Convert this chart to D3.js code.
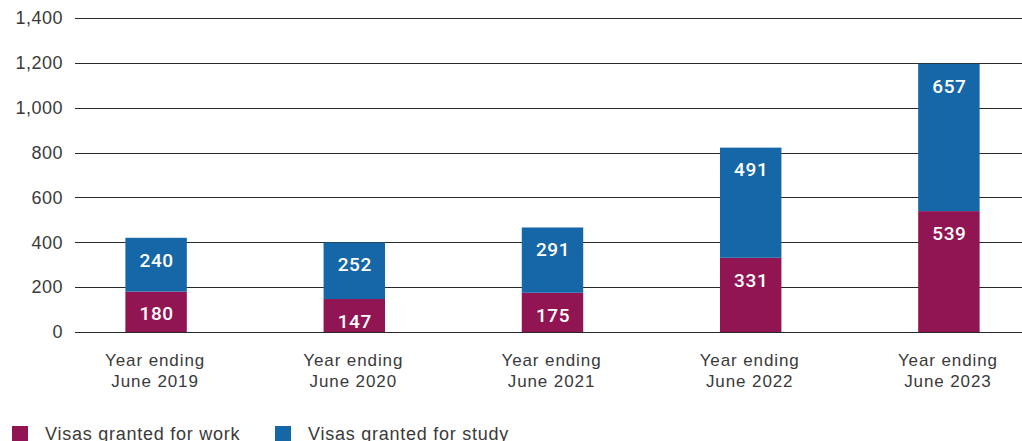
<!DOCTYPE html>
<html>
<head>
<meta charset="utf-8">
<script src="https://cdn.jsdelivr.net/npm/d3@7"></script>
<style>
  html, body { margin: 0; padding: 0; background: #fff; }
  svg { display: block; font-family: "Liberation Sans", Arial, sans-serif; }
</style>
</head>
<body>
<svg id="chart" width="1022" height="441"></svg>
<script>
const categories = ["Year ending|June 2019", "Year ending|June 2020", "Year ending|June 2021", "Year ending|June 2022", "Year ending|June 2023"];
const work = [180, 147, 175, 331, 539];
const study = [240, 252, 291, 491, 657];
const yTicks = [0, 200, 400, 600, 800, 1000, 1200, 1400];
const seriesNames = ["Visas granted for work", "Visas granted for study"];
const colors = ["#921553", "#1567a7"];

const svg = d3.select("#chart");
const y = d3.scaleLinear().domain([0, 1400]).range([332, 18]);
const x = d3.scaleBand().domain(categories).range([57, 1048]).paddingInner(0.69).paddingOuter(0.345);

// gridlines
svg.append("g").selectAll("line").data(yTicks).join("line")
  .attr("x1", 75).attr("x2", 1022)
  .attr("y1", d => Math.round(y(d)) + 0.5).attr("y2", d => Math.round(y(d)) + 0.5)
  .attr("stroke", "#2a2a2a").attr("stroke-width", 1);

// y axis labels
svg.append("g").selectAll("text").data(yTicks).join("text")
  .attr("x", 63).attr("y", d => y(d)).attr("dy", "0.35em")
  .attr("text-anchor", "end").attr("font-size", 18).attr("letter-spacing", 0.5).attr("fill", "#3a3a3a")
  .text(d => d3.format(",")(d));

const stacked = categories.map((c, i) => ({c, w: work[i], s: study[i]}));

const g = svg.append("g");
g.selectAll("rect.work").data(stacked).join("rect").attr("class", "work")
  .attr("x", d => x(d.c)).attr("width", x.bandwidth())
  .attr("y", d => y(d.w)).attr("height", d => y(0) - y(d.w))
  .attr("fill", colors[0]);
g.selectAll("rect.study").data(stacked).join("rect").attr("class", "study")
  .attr("x", d => x(d.c)).attr("width", x.bandwidth())
  .attr("y", d => y(d.w + d.s)).attr("height", d => y(d.w) - y(d.w + d.s))
  .attr("fill", colors[1]);

const valFont = "Roboto, 'Liberation Sans', Arial, sans-serif";
g.selectAll("text.wl").data(stacked).join("text").attr("class", "wl")
  .attr("x", d => x(d.c) + x.bandwidth() / 2 + 0.5).attr("y", d => y(d.w) + 22).attr("dy", "0.36em")
  .attr("text-anchor", "middle").attr("font-family", valFont).attr("font-size", 19).attr("font-weight", 500)
  .attr("letter-spacing", 0.6).attr("fill", "#fff")
  .text(d => d.w);
g.selectAll("text.sl").data(stacked).join("text").attr("class", "sl")
  .attr("x", d => x(d.c) + x.bandwidth() / 2 + 0.5).attr("y", d => y(d.w + d.s) + 22).attr("dy", "0.36em")
  .attr("text-anchor", "middle").attr("font-family", valFont).attr("font-size", 19).attr("font-weight", 500)
  .attr("letter-spacing", 0.6).attr("fill", "#fff")
  .text(d => d.s);

// category labels
const cl = svg.append("g").selectAll("text").data(categories).join("text")
  .attr("y", 366)
  .attr("text-anchor", "middle").attr("font-size", 17).attr("letter-spacing", 0.9).attr("fill", "#3a3a3a");
cl.each(function(d) {
  const parts = d.split("|");
  d3.select(this).selectAll("tspan").data(parts).join("tspan")
    .attr("x", x(d) + x.bandwidth() / 2 - 1).attr("dy", (p, i) => i === 0 ? 0 : 21).text(p => p);
});

// legend
const legX = [12, 275];
const leg = svg.append("g").selectAll("g").data(seriesNames).join("g")
  .attr("transform", (d, i) => `translate(${legX[i]},426)`);
leg.append("rect").attr("width", 16).attr("height", 16).attr("fill", (d, i) => colors[i]);
leg.append("text").attr("x", 33).attr("y", 14).attr("font-size", 18).attr("letter-spacing", 0.75)
  .attr("fill", "#3a3a3a").text(d => d);
</script>
</body>
</html>
